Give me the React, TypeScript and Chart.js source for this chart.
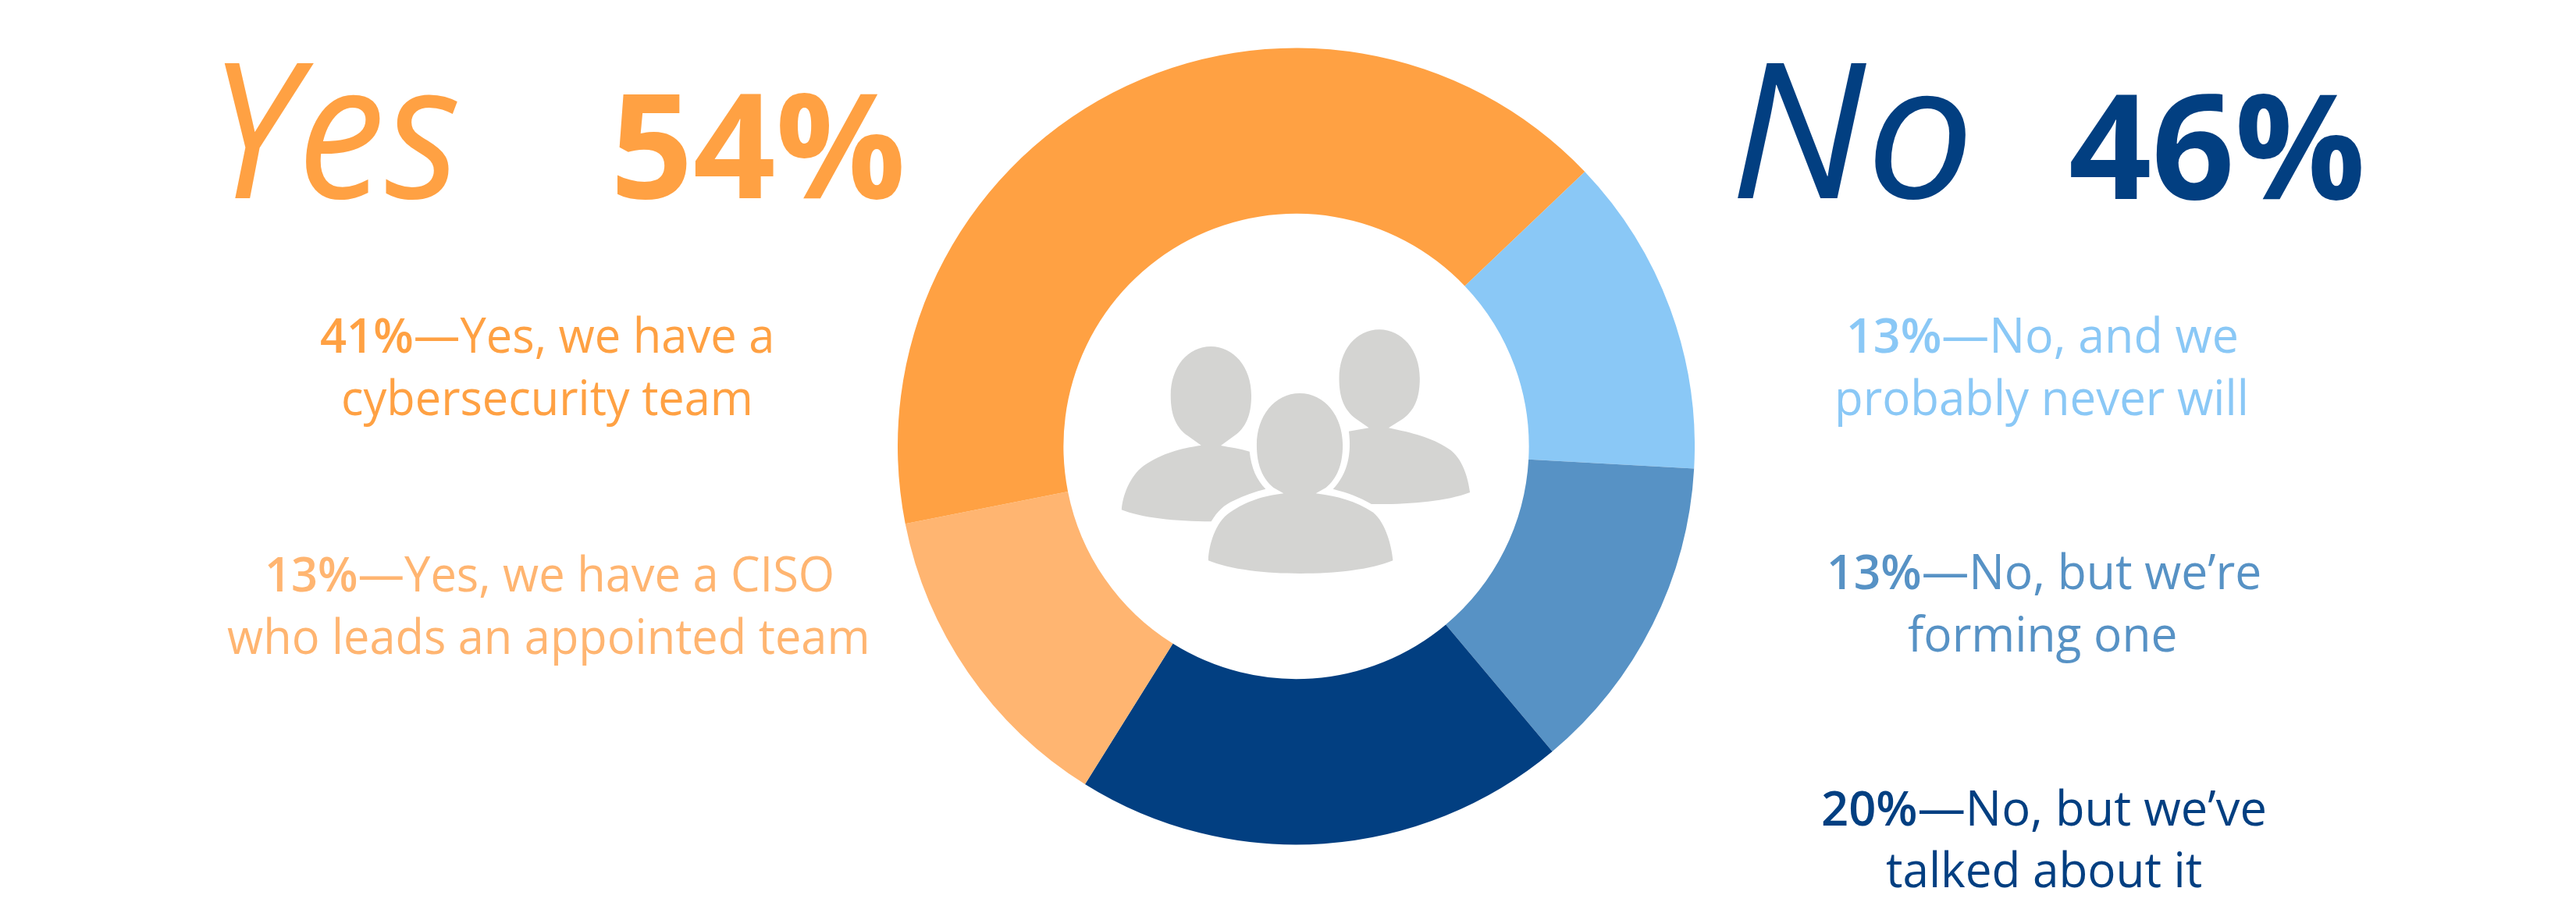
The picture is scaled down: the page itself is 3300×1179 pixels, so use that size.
import React, { useEffect, useLayoutEffect, useRef } from "react";
import { Chart, registerables } from "chart.js";

Chart.register(...registerables);

const categories = [
  "No, and we probably never will",
  "No, but we’re forming one",
  "No, but we’ve talked about it",
  "Yes, we have a CISO who leads an appointed team",
  "Yes, we have a cybersecurity team",
];
const shareValues = [13, 13, 20, 13, 41];
const sliceColors = ["#8AC8F6", "#5792C5", "#023F81", "#FFB571", "#FFA143"];

const ICON_GREY = "#D4D4D2";
const ICON_PATHS = [
  "M547 192C483 192 435 270 435 380C435 460 452 505 482 535L520 572C460 585 415 600 360 650C320 690 300 770 298 820C350 850 450 865 548 865C565 825 585 800 610 785C640 765 670 750 700 740C675 705 660 660 655 596C630 585 600 580 575 573L613 535C643 505 660 460 660 380C660 270 610 192 547 192Z",
  "M1017 127C953 127 905 205 905 315C905 395 922 440 952 470L988 505L932 518C940 600 930 680 888 740C930 755 960 770 995 798C1090 800 1200 790 1270 753C1265 700 1250 620 1210 585C1160 540 1110 525 1043 505L1083 470C1113 440 1130 395 1130 315C1130 205 1080 127 1017 127Z",
  "M795 372C725 372 675 460 675 570C675 650 692 700 722 735L750 757C690 768 650 785 600 830C560 865 540 960 540 1015C600 1050 700 1065 797 1065C895 1065 995 1050 1055 1015C1052 960 1035 870 1000 830C950 785 900 768 840 757L868 735C898 700 915 650 915 570C915 460 865 372 795 372Z",
];

const iconPlugin = {
  id: "peopleIcon",
  afterDatasetsDraw(chart: any) {
    const arc = chart.getDatasetMeta(0).data[0];
    const { ctx } = chart;
    ctx.save();
    // icon artwork is authored in a 2.178 x 3 zoomed space, offset from the ring centre
    ctx.translate(arc.x - 360.5, arc.y - 192);
    ctx.scale(1 / 2.178, 1 / 3);
    ctx.fillStyle = ICON_GREY;
    ICON_PATHS.forEach((p) => ctx.fill(new Path2D(p)));
    ctx.restore();
  },
};

type Line = {
  bold?: string;
  text: string;
  color: string;
  size: number;
  weight?: number;
  italic?: boolean;
  left: number;
  right: number;
  base: number;
};

const ORANGE = "#FFA143";
const LIGHT_ORANGE = "#FFB571";
const LIGHT_BLUE = "#8AC8F6";
const MID_BLUE = "#5792C5";
const NAVY = "#023F81";

const lines: Line[] = [
  { text: "Yes", color: ORANGE, size: 242, weight: 400, italic: true, left: 267, right: 590, base: 254 },
  { text: "54%", color: ORANGE, size: 186, weight: 700, left: 782, right: 1160, base: 254 },
  { text: "No", color: NAVY, size: 242, weight: 400, italic: true, left: 2216, right: 2530, base: 254 },
  { text: "46%", color: NAVY, size: 186, weight: 700, left: 2650, right: 3030, base: 255 },
  { bold: "41%", text: "—Yes, we have a", color: ORANGE, size: 62, left: 410, right: 992, base: 452 },
  { text: "cybersecurity team", color: ORANGE, size: 62, left: 437, right: 965, base: 532 },
  { bold: "13%", text: "—Yes, we have a CISO", color: LIGHT_ORANGE, size: 62, left: 339, right: 1069, base: 758 },
  { text: "who leads an appointed team", color: LIGHT_ORANGE, size: 62, left: 291, right: 1115, base: 838 },
  { bold: "13%", text: "—No, and we", color: LIGHT_BLUE, size: 62, left: 2365, right: 2868, base: 452 },
  { text: "probably never will", color: LIGHT_BLUE, size: 62, left: 2350, right: 2881, base: 532 },
  { bold: "13%", text: "—No, but we’re", color: MID_BLUE, size: 62, left: 2340, right: 2897, base: 755 },
  { text: "forming one", color: MID_BLUE, size: 62, left: 2444, right: 2789, base: 835 },
  { bold: "20%", text: "—No, but we’ve", color: NAVY, size: 62, left: 2333, right: 2904, base: 1058 },
  { text: "talked about it", color: NAVY, size: 62, left: 2416, right: 2821, base: 1137 },
];

export default function App() {
  const canvasRef = useRef<HTMLCanvasElement>(null);
  const rootRef = useRef<HTMLDivElement>(null);

  useLayoutEffect(() => {
    rootRef.current!.querySelectorAll<HTMLElement>("[data-target]").forEach((el) => {
      const target = Number(el.dataset.target);
      el.style.transform = `scaleX(${target / el.offsetWidth})`;
    });
  }, []);

  useEffect(() => {
    const chart = new Chart(canvasRef.current!, {
      type: "doughnut",
      data: {
        labels: categories,
        datasets: [{ data: shareValues, backgroundColor: sliceColors, borderWidth: 0 }],
      },
      options: {
        animation: false,
        responsive: false,
        rotation: 46.4,
        cutout: "58.4%",
        layout: { padding: 0 },
        plugins: { legend: { display: false }, tooltip: { enabled: false } },
      },
      plugins: [iconPlugin],
    });
    return () => chart.destroy();
  }, []);

  return (
    <div
      ref={rootRef}
      style={{ position: "fixed", left: 0, top: 0, width: 3300, height: 1179, background: "#fff", overflow: "hidden" }}
    >
      <canvas
        ref={canvasRef}
        width={1021}
        height={1022}
        style={{ position: "absolute", left: 1150, top: 61, width: 1021, height: 1022 }}
      />
      {lines.map((l, i) => (
        <div
          key={i}
          data-target={l.right - l.left}
          style={{
            position: "absolute",
            left: l.left,
            top: l.base - 0.388 * l.size,
            lineHeight: 0,
            whiteSpace: "pre",
            transformOrigin: "left center",
            fontFamily: '"Open Sans"',
            fontSize: l.size,
            fontWeight: l.weight ?? 400,
            fontStyle: l.italic ? "italic" : "normal",
            color: l.color,
          }}
        >
          {l.bold ? <span style={{ fontWeight: 600 }}>{l.bold}</span> : null}
          {l.text}
        </div>
      ))}
    </div>
  );
}
